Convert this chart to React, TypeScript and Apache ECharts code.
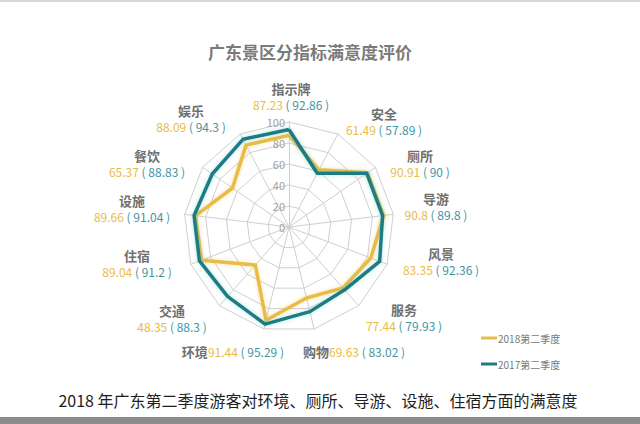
import React, { useEffect, useRef } from "react";
import * as echarts from "echarts";

// Data (clockwise from top, as in the picture)
const indicatorNames = ["指示牌", "安全", "厕所", "导游", "风景", "服务", "购物", "环境", "交通", "住宿", "设施", "餐饮", "娱乐"];
const values2018 = [87.23, 61.49, 90.91, 90.8, 83.35, 77.44, 69.63, 91.44, 48.35, 89.04, 89.66, 65.37, 88.09];
const values2017 = [92.86, 57.89, 90, 89.8, 92.36, 79.93, 83.02, 95.29, 88.3, 91.2, 91.04, 88.83, 94.3];
const seriesNames = ["2018第二季度", "2017第二季度"];
const axisMax = 100;
const title = "广东景区分指标满意度评价";
const caption = "2018 年广东第二季度游客对环境、厕所、导游、设施、住宿方面的满意度";

// Label layout (positions only)
const labelLayout: { x: number; y: number; mode: "stack" | "left" | "right" }[] = [
  { x: 291, y: 88, mode: "stack" },
  { x: 384, y: 113, mode: "stack" },
  { x: 420, y: 155, mode: "stack" },
  { x: 436, y: 198, mode: "stack" },
  { x: 441, y: 253, mode: "stack" },
  { x: 404, y: 309, mode: "stack" },
  { x: 303, y: 351, mode: "left" },
  { x: 284, y: 351, mode: "right" },
  { x: 172, y: 310, mode: "stack" },
  { x: 137, y: 255, mode: "stack" },
  { x: 132, y: 200, mode: "stack" },
  { x: 147, y: 155, mode: "stack" },
  { x: 191, y: 110, mode: "stack" },
];

const GOLD = "#E9BC45";
const TEAL = "#1F7C82";
const TEAL_TEXT = "#3E95A3";
const FONT = "'Noto Sans CJK SC', 'Noto Sans', sans-serif";

export default function App() {
  const ref = useRef<HTMLDivElement>(null);
  useEffect(() => {
    if (!ref.current) return;
    const chart = echarts.init(ref.current, null, { renderer: "svg" });
    const n = indicatorNames.length;
    // ECharts places indicators counter-clockwise; reorder so they read clockwise
    const order = [0];
    for (let i = n - 1; i >= 1; i--) order.push(i);
    const indicator = order.map((idx, k) => ({
      name: indicatorNames[idx],
      max: axisMax,
      min: 0,
      axisLabel: { show: k === 0 },
    }));
    const rich = {
      n: { fontSize: 13, fontWeight: "bold", fill: "#707070", fontFamily: FONT, lineHeight: 16 },
      a: { fontSize: 12, fill: GOLD, fontFamily: FONT, lineHeight: 16 },
      b: { fontSize: 12, fill: TEAL_TEXT, fontFamily: FONT, lineHeight: 16 },
    };
    const labels = indicatorNames.map((name, i) => {
      const L = labelLayout[i];
      const valTxt = `{a|${values2018[i]}}{b| ( ${values2017[i]} )}`;
      if (L.mode === "stack") {
        return {
          type: "text",
          x: L.x,
          y: L.y - 8,
          style: {
            text: `{n|${name}}\n${valTxt}`,
            rich,
            align: "center",
            verticalAlign: "top",
          },
        };
      }
      return {
        type: "text",
        x: L.x,
        y: L.y,
        style: {
          text: `{n|${name}}${valTxt}`,
          rich,
          align: L.mode,
          verticalAlign: "middle",
        },
      };
    });
    chart.setOption({
      animation: false,
      backgroundColor: "#ffffff",
      title: {
        text: title,
        left: 305,
        top: 38,
        textAlign: "center",
        textStyle: { fontSize: 17, fontWeight: "bold", color: "#7b7b7b", fontFamily: FONT },
      },
      legend: {
        orient: "vertical",
        left: 476,
        top: 328,
        itemWidth: 16,
        itemHeight: 3,
        itemGap: 16,
        icon: "rect",
        data: seriesNames,
        textStyle: { fontSize: 10, color: "#777", fontFamily: FONT, padding: [0, 0, 0, -4] },
      },
      radar: {
        center: [289, 227],
        radius: 105,
        startAngle: 90,
        shape: "polygon",
        splitNumber: 5,
        indicator,
        axisName: { show: false },
        axisLine: { show: true, lineStyle: { color: "#cfcfcf", width: 1 } },
        splitLine: { show: true, lineStyle: { color: "#cfcfcf", width: 1 } },
        splitArea: { show: false },
        axisTick: { show: false },
        axisLabel: { show: true, color: "#a0a0a0", fontSize: 11, fontFamily: FONT, margin: 4 },
      },
      series: [
        {
          type: "radar",
          symbol: "none",
          data: [
            {
              name: seriesNames[0],
              value: order.map((i) => values2018[i]),
              lineStyle: { color: GOLD, width: 3.5, shadowBlur: 4, shadowColor: "rgba(233,188,69,0.4)" },
              itemStyle: { color: GOLD },
            },
            {
              name: seriesNames[1],
              value: order.map((i) => values2017[i]),
              lineStyle: { color: TEAL, width: 3.5, shadowBlur: 4, shadowColor: "rgba(80,200,210,0.45)" },
              itemStyle: { color: TEAL },
            },
          ],
        },
      ],
      graphic: [
        ...labels,
        {
          type: "text",
          x: 318,
          y: 400,
          style: {
            text: caption,
            fontSize: 16,
            fill: "#1e1e1e",
            fontFamily: FONT,
            align: "center",
            verticalAlign: "middle",
          },
        },
        { type: "rect", shape: { x: 0, y: 417, width: 640, height: 7 }, style: { fill: "#8c8c8c" } },
        { type: "rect", shape: { x: 0, y: 0, width: 640, height: 2 }, style: { fill: "#d8d8d8" } },
      ],
    });
    return () => chart.dispose();
  }, []);
  return <div ref={ref} style={{ position: "fixed", left: 0, top: 0, width: 640, height: 424 }} />;
}
